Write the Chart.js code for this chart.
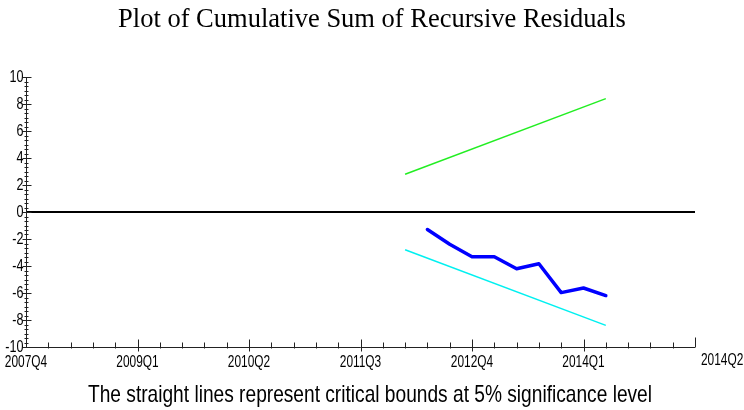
<!DOCTYPE html>
<html>
<head>
<meta charset="utf-8">
<script src="https://cdn.jsdelivr.net/npm/chart.js@4/dist/chart.umd.min.js"></script>
<style>
  html, body { margin: 0; padding: 0; background: #fff; }
  #wrap { width: 744px; height: 410px; }
</style>
</head>
<body>
<div id="wrap"><canvas id="cusum"></canvas></div>
<script>
// quarters on the x axis run from 2007Q4 (0) to index 30
const xTickPos = [0, 5, 10, 15, 20, 25, 30];
const xTickLabels = ['2007Q4', '2009Q1', '2010Q2', '2011Q3', '2012Q4', '2014Q1', '2014Q2'];
const yTicks = [10, 8, 6, 4, 2, 0, -2, -4, -6, -8, -10];

const cusumQuarters = ['2012Q2', '2012Q3', '2012Q4', '2013Q1', '2013Q2', '2013Q3', '2013Q4', '2014Q1', '2014Q2'];
const cusumValues = [-1.30, -2.39, -3.31, -3.31, -4.20, -3.83, -5.97, -5.63, -6.19];

const boundQuarters = ['2012Q1', '2014Q2'];
const upperBound = [2.8, 8.4];
const lowerBound = [-2.8, -8.4];

const titleText = 'Plot of Cumulative Sum of Recursive Residuals';
const captionText = 'The straight lines represent critical bounds at 5% significance level';

function quarterIndex(q) {
    const year = parseInt(q.slice(0, 4));
    const qq = parseInt(q.slice(5));
    return (year - 2007) * 4 + qq - 4;
}

function toPoints(quarters, values) {
    return quarters.map((q, i) => ({ x: quarterIndex(q), y: values[i] }));
}

function narrowText(ctx, text, x, y, font, sx, align) {
    ctx.save();
    ctx.font = font;
    ctx.translate(x, y);
    ctx.scale(sx, 1);
    ctx.textAlign = align;
    ctx.textBaseline = 'middle';
    ctx.fillStyle = '#000';
    ctx.fillText(text, 0, 0);
    ctx.restore();
}

const tickFont = '17px "Liberation Sans"';

const axesPlugin = {
    id: 'microfitAxes',
    beforeDatasetsDraw(chart) {
        const ctx = chart.ctx;
        const x = chart.scales.x, y = chart.scales.y;
        // zero line
        ctx.save();
        ctx.strokeStyle = '#000';
        ctx.lineWidth = 2;
        ctx.beginPath();
        ctx.moveTo(x.getPixelForValue(0), y.getPixelForValue(0));
        ctx.lineTo(x.getPixelForValue(30), y.getPixelForValue(0));
        ctx.stroke();
        ctx.restore();
    },
    afterDraw(chart) {
        const ctx = chart.ctx;
        const x = chart.scales.x, y = chart.scales.y;
        const x0 = Math.round(x.getPixelForValue(0)) + 0.5;
        const yb = Math.round(y.getPixelForValue(-10)) + 0.5;

        ctx.save();
        ctx.strokeStyle = '#222';
        ctx.lineWidth = 1;
        ctx.beginPath();
        // y axis
        ctx.moveTo(x0, y.getPixelForValue(10));
        ctx.lineTo(x0, yb);
        // x axis
        ctx.moveTo(x0, yb);
        ctx.lineTo(x.getPixelForValue(30), yb);
        // y ticks
        for (let v = -10; v <= 10.001; v += 1 / 3) {
            const py = Math.round(y.getPixelForValue(v)) + 0.5;
            const major = Math.abs(v - Math.round(v)) < 0.01 && Math.round(v) % 2 === 0;
            ctx.moveTo(major ? x0 - 4 : x0 - 2, py);
            ctx.lineTo(major ? x0 + 5 : x0 + 2, py);
        }
        // x ticks
        for (let q = 1; q <= 30; q++) {
            const px = Math.round(x.getPixelForValue(q)) + 0.5;
            if (q === 30) {
                ctx.moveTo(px, yb - 10); ctx.lineTo(px, yb);
            } else if (q % 5 === 0) {
                ctx.moveTo(px, yb - 8); ctx.lineTo(px, yb + 4);
            } else {
                ctx.moveTo(px, yb - 5); ctx.lineTo(px, yb + 1);
            }
        }
        ctx.stroke();
        ctx.restore();

        // tick labels
        yTicks.forEach(v => {
            narrowText(ctx, String(v), x0 - 3, y.getPixelForValue(v), tickFont, 0.74, 'right');
        });
        xTickLabels.forEach((lab, i) => {
            const px = x.getPixelForValue(xTickPos[i]);
            if (xTickPos[i] === 30) {
                narrowText(ctx, lab, px + 6, yb + 13, tickFont, 0.7, 'left');
            } else {
                narrowText(ctx, lab, px, yb + 15, tickFont, 0.7, 'center');
            }
        });

        // title and caption
        narrowText(ctx, titleText, 372, 20, '26.5px "Liberation Serif"', 1, 'center');
        ctx.save();
        ctx.font = '24px "Liberation Sans"';
        const w = ctx.measureText(captionText).width;
        ctx.restore();
        narrowText(ctx, captionText, 370, 395, '24px "Liberation Sans"', 564 / w, 'center');
    }
};

new Chart(
    document.getElementById('cusum'),
    {
        type: 'line',
        data: {
            datasets: [
                {
                    label: 'CUSUM',
                    data: toPoints(cusumQuarters, cusumValues),
                    borderColor: '#0000ff',
                    borderWidth: 3.5,
                    borderJoinStyle: 'round',
                    borderCapStyle: 'round'
                },
                {
                    label: 'Upper bound',
                    data: toPoints(boundQuarters, upperBound),
                    borderColor: '#22ee22',
                    borderWidth: 1.5
                },
                {
                    label: 'Lower bound',
                    data: toPoints(boundQuarters, lowerBound),
                    borderColor: '#00f0f0',
                    borderWidth: 1.5
                }
            ]
        },
        options: {
            responsive: true,
            maintainAspectRatio: false,
            animation: false,
            layout: {
                padding: { left: 26, right: 49, top: 77, bottom: 63 }
            },
            elements: {
                point: { radius: 0 },
                line: { tension: 0 }
            },
            scales: {
                x: { type: 'linear', min: 0, max: 30, display: false },
                y: { type: 'linear', min: -10, max: 10, display: false }
            },
            plugins: {
                legend: { display: false },
                tooltip: { enabled: false },
                title: { display: false }
            }
        },
        plugins: [axesPlugin]
    }
);
</script>
</body>
</html>
